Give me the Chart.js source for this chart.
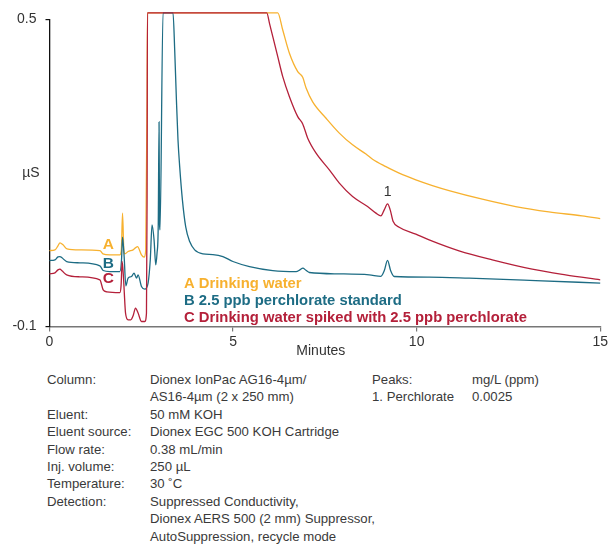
<!DOCTYPE html>
<html>
<head>
<meta charset="utf-8">
<script src="https://cdn.jsdelivr.net/npm/chart.js@4.4.1/dist/chart.umd.min.js"></script>
<style>
  html, body { margin: 0; padding: 0; background: #fff; }
  body { width: 610px; height: 550px; position: relative; overflow: hidden; font-family: "Liberation Sans", Arial, sans-serif; }
  #wrap { position: absolute; left: 0; top: 0; width: 610px; height: 365px; }
  .col { position: absolute; top: 371px; font-size: 13.2px; line-height: 17.4px; color: #3a3a3a; white-space: nowrap; }
</style>
</head>
<body>
<div id="wrap"><canvas id="c"></canvas></div>
<div class="col" style="left:47px">Column:<br><br>Eluent:<br>Eluent source:<br>Flow rate:<br>Inj. volume:<br>Temperature:<br>Detection:</div>
<div class="col" style="left:150px">Dionex IonPac AG16-4µm/<br>AS16-4µm (2 x 250 mm)<br>50 mM KOH<br>Dionex EGC 500 KOH Cartridge<br>0.38 mL/min<br>250 µL<br>30 ˚C<br>Suppressed Conductivity,<br>Dionex AERS 500 (2 mm) Suppressor,<br>AutoSuppression, recycle mode</div>
<div class="col" style="left:372px">Peaks:<br>1. Perchlorate</div>
<div class="col" style="left:472px">mg/L (ppm)<br>0.0025</div>
<script>
// ---- data (minutes, µS) ----
const seriesNames = ["A Drinking water", "B 2.5 ppb perchlorate standard", "C Drinking water spiked with 2.5 ppb perchlorate"];
const seriesColors = ["#F7B12F", "#1D6C84", "#B4203A"];

const aMinutes = [0, 0.149, 0.231, 0.285, 0.367, 0.476, 0.829, 1.372, 1.454, 1.644, 1.916, 1.957, 1.989, 2.024, 2.052, 2.141, 2.277, 2.397, 2.505, 2.576, 2.622, 2.658, 2.668,
  6.217, 6.353, 6.535, 6.761, 6.897, 6.989, 7.168, 7.533, 7.894, 8.255, 8.620, 8.799, 9.163, 9.524, 9.978, 10.429, 10.883, 11.788, 12.696, 13.601, 14.505, 15.0];
const aMicroS = [0.0484, 0.0498, 0.0576, 0.0635, 0.0596, 0.0518, 0.0498, 0.0484, 0.0420, 0.0400, 0.0400, 0.0498, 0.1215, 0.0498, 0.0420, 0.0465, 0.0498, 0.0563, 0.0400, 0.0355, 0.0498, 0.343, 0.513,
  0.513, 0.4795, 0.434, 0.398, 0.387, 0.366, 0.339, 0.307, 0.278, 0.255, 0.237, 0.227, 0.2125, 0.1996, 0.1865, 0.1754, 0.1656, 0.1488, 0.1344, 0.1240, 0.1162, 0.1109];

const bMinutes = [0, 0.149, 0.231, 0.285, 0.340, 0.467, 0.829, 1.372, 1.462, 1.644, 1.916, 1.962, 1.989, 2.033, 2.079, 2.141, 2.234, 2.304, 2.370, 2.413, 2.505, 2.595, 2.685, 2.745, 2.793, 2.848, 2.894, 2.929, 2.962, 2.984, 2.997, 3.011, 3.092,
  3.364, 3.410, 3.457, 3.500, 3.546, 3.620, 3.709, 3.818, 3.954, 4.179, 4.451, 4.723, 4.995, 5.448, 6.082, 6.717, 6.821, 6.902, 6.984, 7.079, 7.894, 8.709, 9.027, 9.117, 9.207, 9.293, 9.389, 10.340, 11.427, 13.239, 15.0];
const bMicroS = [0.0289, 0.0303, 0.0361, 0.0367, 0.0342, 0.0270, 0.0244, 0.0186, 0.0094, 0.0074, 0.0074, 0.0303, 0.0746, 0.0367, -0.0205, -0.0055, -0.0023, 0.0043, -0.0055, 0.0010, -0.0219, -0.0270, -0.0152, 0.0303, 0.0986, 0.0693, 0.0205, 0.0434, 0.0986, 0.2998, 0.1, 0.0889, 0.513,
  0.513, 0.4404, 0.3428, 0.2646, 0.2125, 0.1475, 0.0953, 0.0660, 0.0498, 0.0420, 0.0406, 0.0367, 0.0270, 0.0172, 0.0094, 0.0074, 0.0107, 0.0141, 0.0098, 0.0055, 0.0029, 0.0010, -0.0020, 0.0088, 0.0293, 0.0088, -0.0023, -0.0035, -0.0055, -0.0102, -0.0152];

const cMinutes = [0, 0.149, 0.231, 0.285, 0.340, 0.467, 0.829, 1.372, 1.462, 1.562, 1.916, 1.951, 1.978, 2.011, 2.033, 2.071, 2.141, 2.215, 2.277, 2.342, 2.413, 2.505, 2.595, 2.641, 2.658, 2.668,
  5.918, 5.992, 6.082, 6.217, 6.353, 6.535, 6.761, 6.897, 7.033, 7.261, 7.622, 7.894, 8.255, 8.663, 8.891, 9.027, 9.117, 9.207, 9.280, 9.361, 9.524, 9.978, 10.340, 11.155, 12.060, 13.147, 14.054, 15.0];
const cMicroS = [0.0029, 0.0049, 0.0107, 0.0121, 0.0088, 0.0010, -0.0029, -0.0088, -0.0283, -0.0322, -0.0336, -0.0186, 0.0270, 0.0010, -0.0283, -0.0738, -0.0869, -0.0869, -0.0791, -0.0641, -0.0738, -0.0902, -0.0902, -0.0738, 0.1475, 0.513,
  0.513, 0.4926, 0.4664, 0.4273, 0.3883, 0.3492, 0.3102, 0.2959, 0.2680, 0.2387, 0.2061, 0.1801, 0.1539, 0.1344, 0.1215, 0.1162, 0.1279, 0.1396, 0.1279, 0.1051, 0.0941, 0.0805, 0.0693, 0.0479, 0.0303, 0.0121, 0.0010, -0.0088];

const xTicks = [0, 5, 10, 15];
const yTicks = [-0.1, 0.5];
const peakLabel = "1";
const peakMinute = 9.207;
const peakMicroS = 0.1396;

const toPts = (xs, ys) => xs.map((x, i) => ({ x: x, y: ys[i] }));
const FONT = '"Liberation Sans", Arial, sans-serif';

const annot = {
  id: 'annot',
  afterDatasetsDraw(chart) {
    const ctx = chart.ctx;
    const xs = chart.scales.x, ys = chart.scales.y;
    ctx.save();
    ctx.fillStyle = '#333';
    ctx.font = '14px ' + FONT;
    ctx.textAlign = 'center';
    ctx.textBaseline = 'middle';
    ctx.fillText('µS', 31, 173);
    ctx.fillText('Minutes', (xs.left + xs.right) / 2 - 4, 351);
    ctx.fillText(peakLabel, xs.getPixelForValue(peakMinute), ys.getPixelForValue(peakMicroS) - 12);
    // series tags next to traces
    ctx.font = 'bold 15.5px ' + FONT;
    const tagY = [244.3, 263.3, 279];
    ['A', 'B', 'C'].forEach((t, i) => { ctx.fillStyle = seriesColors[i]; ctx.fillText(t, 108.3, tagY[i]); });
    // legend
    ctx.font = 'bold 14.8px ' + FONT;
    ctx.textAlign = 'left';
    const legY = [283.5, 301, 318];
    seriesNames.forEach((t, i) => { ctx.fillStyle = seriesColors[i]; ctx.fillText(t, 184, legY[i]); });
    ctx.restore();
  }
};

const mk = (label, pts, color, order) => ({
  label, data: pts, borderColor: color, backgroundColor: color, borderWidth: 1.3,
  pointRadius: 0, cubicInterpolationMode: 'monotone', fill: false, clip: false, order
});

new Chart(document.getElementById('c'), {
  type: 'line',
  data: {
    datasets: [
      mk(seriesNames[0], toPts(aMinutes, aMicroS), seriesColors[0], 3),
      mk(seriesNames[1], toPts(bMinutes, bMicroS), seriesColors[1], 2),
      mk(seriesNames[2], toPts(cMinutes, cMicroS), seriesColors[2], 1)
    ]
  },
  options: {
    responsive: true,
    maintainAspectRatio: false,
    animation: false,
    events: [],
    layout: { padding: { top: 19.5, right: 8, left: 0, bottom: 0 } },
    plugins: { legend: { display: false }, tooltip: { enabled: false } },
    scales: {
      x: {
        type: 'linear', min: 0, max: 15,
        afterBuildTicks: s => { s.ticks = xTicks.map(v => ({ value: v })); },
        afterFit: s => { s.height = 38.5; },
        ticks: { color: '#333', font: { size: 14, family: FONT }, padding: 2, maxRotation: 0, autoSkip: false },
        grid: { drawOnChartArea: false, drawTicks: true, tickLength: 5, color: '#777', lineWidth: 1.2 },
        border: { display: true, color: '#777', width: 1.5 }
      },
      y: {
        type: 'linear', min: -0.1, max: 0.5,
        afterBuildTicks: s => { s.ticks = yTicks.map(v => ({ value: v })); },
        afterFit: s => { s.width = 49.5; },
        ticks: { color: '#333', font: { size: 14, family: FONT }, padding: 9, callback: v => String(v) },
        grid: { drawOnChartArea: false, drawTicks: true, tickLength: 4, color: '#111', lineWidth: 1.2 },
        border: { display: true, color: '#111', width: 1.3 }
      }
    }
  },
  plugins: [annot]
});
</script>
</body>
</html>
